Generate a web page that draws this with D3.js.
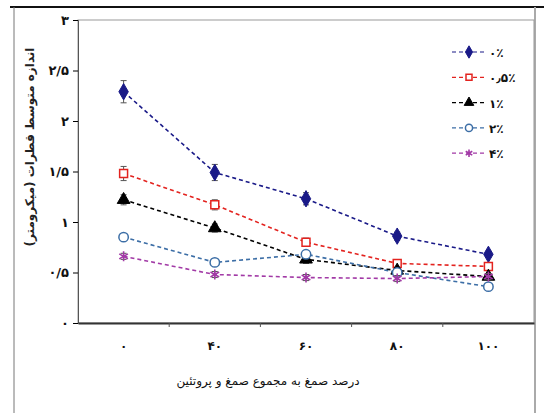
<!DOCTYPE html>
<html>
<head>
<meta charset="utf-8">
<script src="https://cdn.jsdelivr.net/npm/d3@7"></script>
<style>
body{margin:0;background:#fff;}
text{font-family:"DejaVu Sans",sans-serif;}
</style>
</head>
<body>
<div id="chart"></div>
<script>
// data
const categories = ["۰","۴۰","۶۰","۸۰","۱۰۰"];
const seriesNames = ["۰٪","۰٫۵٪","۱٪","۲٪","۴٪"];
const values0  = [2.29,1.49,1.23,0.86,0.68];
const values05 = [1.48,1.17,0.80,0.59,0.56];
const values1  = [1.22,0.94,0.63,0.52,0.46];
const values2  = [0.85,0.60,0.68,0.50,0.36];
const values4  = [0.66,0.48,0.45,0.44,0.46];
const err0  = [0.11,0.08,0.06,0.04,0.03];
const err05 = [0.07,0.05,0.04,0.03,0.03];
const err1  = [0.05,0.04,0.04,0.03,0.03];
const err2  = [0.03,0.03,0.03,0.03,0.03];
const err4  = [0.03,0.03,0.03,0.03,0.03];
const yTicks = [0,0.5,1,1.5,2,2.5,3];
const yTickLabels = ["۰","۰/۵","۱","۱/۵","۲","۲/۵","۳"];
const xTitle = "درصد صمغ به مجموع صمغ و پروتئین";
const yTitle = "اندازه متوسط قطرات (میکرومتر)";

const series = [
  {name:seriesNames[0], vals:values0,  err:err0,  color:"#1a1a88", sym:"diamond"},
  {name:seriesNames[1], vals:values05, err:err05, color:"#e3231f", sym:"square"},
  {name:seriesNames[2], vals:values1,  err:err1,  color:"#000000", sym:"triangle"},
  {name:seriesNames[3], vals:values2,  err:err2,  color:"#3c6ea6", sym:"circle"},
  {name:seriesNames[4], vals:values4,  err:err4,  color:"#a23aa6", sym:"star"}
];

const svg = d3.select("#chart").append("svg").attr("width",544).attr("height",413);

// outer frame
svg.append("line").attr("x1",10).attr("x2",544).attr("y1",7).attr("y2",7).attr("stroke","#111").attr("stroke-width",2);
svg.append("line").attr("x1",14).attr("x2",14).attr("y1",7).attr("y2",413).attr("stroke","#777").attr("stroke-width",1);
svg.append("line").attr("x1",535).attr("x2",535).attr("y1",7).attr("y2",413).attr("stroke","#aaa").attr("stroke-width",2);

const pLeft = 78, pRight = 534, pTop = 20, pBottom = 323;
const x = d3.scaleBand().domain(categories).range([pLeft,pRight]);
const y = d3.scaleLinear().domain([0,3]).range([pBottom,pTop]);

// plot area border
svg.append("rect").attr("x",pLeft).attr("y",pTop).attr("width",pRight-pLeft).attr("height",pBottom-pTop)
  .attr("fill","none").attr("stroke","#999").attr("stroke-width",1);

// y axis
const yAxis = svg.append("g").attr("transform",`translate(${pLeft},0)`)
  .call(d3.axisLeft(y).tickValues(yTicks).tickFormat((d,i)=>yTickLabels[i]).tickSize(5).tickPadding(4));
yAxis.select(".domain").attr("stroke","#555");
yAxis.selectAll("text").attr("font-size",13).attr("font-weight","bold").attr("fill","#111").attr("direction","ltr");

// x axis
const xAxis = svg.append("g").attr("transform",`translate(0,${pBottom})`)
  .call(d3.axisBottom(x).tickSize(0).tickPadding(18));
xAxis.select(".domain").attr("stroke","#333").attr("stroke-width",2);
xAxis.selectAll("text").attr("font-size",12).attr("font-weight","bold").attr("fill","#111").attr("direction","ltr");
svg.append("g").selectAll("line").data(categories.slice(1)).join("line")
  .attr("x1",d=>x(d)).attr("x2",d=>x(d)).attr("y1",pBottom).attr("y2",pBottom+4)
  .attr("stroke","#555");

// titles
svg.append("text").attr("x",268).attr("y",385).attr("text-anchor","middle")
  .attr("font-size",12).attr("direction","rtl").attr("fill","#111").text(xTitle);
svg.append("text").attr("transform","translate(34,147) rotate(-90)").attr("text-anchor","middle")
  .attr("font-size",12).attr("font-weight","bold").attr("direction","rtl").attr("fill","#222").text(yTitle);

const cx = d => x(d) + x.bandwidth()/2;

function drawMarker(g, s, size){
  if(s.sym==="diamond"){
    g.append("path").attr("d",d3.symbol(d3.symbolDiamond,size*1.1)()).attr("fill",s.color).attr("stroke",s.color);
  } else if(s.sym==="square"){
    g.append("path").attr("d",d3.symbol(d3.symbolSquare,size*0.9)()).attr("fill","#fff").attr("stroke",s.color).attr("stroke-width",1.5);
  } else if(s.sym==="triangle"){
    g.append("path").attr("d",d3.symbol(d3.symbolTriangle,size)()).attr("fill",s.color).attr("stroke",s.color);
  } else if(s.sym==="circle"){
    g.append("path").attr("d",d3.symbol(d3.symbolCircle,size)()).attr("fill","#fff").attr("stroke",s.color).attr("stroke-width",1.5);
  } else {
    g.append("path").attr("d",d3.symbol(d3.symbolAsterisk,size)()).attr("fill","none").attr("stroke",s.color).attr("stroke-width",1.6);
  }
}

const line = d3.line().x((d,i)=>cx(categories[i])).y(d=>y(d));

series.forEach(s=>{
  svg.append("path").datum(s.vals).attr("d",line).attr("fill","none")
    .attr("stroke",s.color).attr("stroke-width",1.6).attr("stroke-dasharray","4,3");
  s.vals.forEach((v,i)=>{
    const px = cx(categories[i]);
    const e = svg.append("g").attr("stroke","#555").attr("stroke-width",1);
    e.append("line").attr("x1",px).attr("x2",px).attr("y1",y(v+s.err[i])).attr("y2",y(v-s.err[i]));
    e.append("line").attr("x1",px-3).attr("x2",px+3).attr("y1",y(v+s.err[i])).attr("y2",y(v+s.err[i]));
    e.append("line").attr("x1",px-3).attr("x2",px+3).attr("y1",y(v-s.err[i])).attr("y2",y(v-s.err[i]));
    const g = svg.append("g").attr("transform",`translate(${px},${y(v)})`);
    drawMarker(g, s, 70);
  });
});

// legend
const legend = svg.append("g");
series.forEach((s,i)=>{
  const ly = 52 + i*25.3;
  legend.append("line").attr("x1",452).attr("x2",484).attr("y1",ly).attr("y2",ly)
    .attr("stroke",s.color).attr("stroke-width",1.2).attr("stroke-dasharray","4,3");
  const g = legend.append("g").attr("transform",`translate(469,${ly})`);
  drawMarker(g, s, 40);
  legend.append("text").attr("x",489).attr("y",ly+5).attr("font-size",12).attr("font-weight","bold")
    .attr("direction","ltr").attr("fill","#111").text(s.name);
});
</script>
</body>
</html>
